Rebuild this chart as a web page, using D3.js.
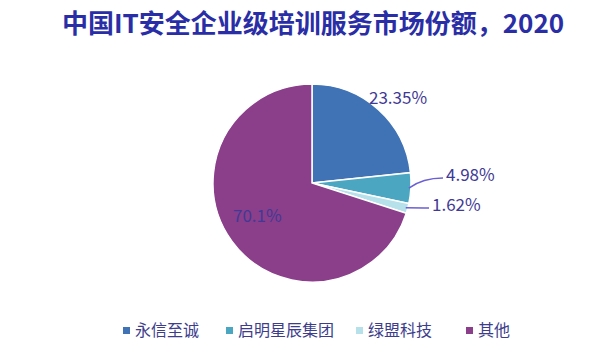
<!DOCTYPE html>
<html><head><meta charset="utf-8">
<script src="https://cdn.jsdelivr.net/npm/d3@7"></script>
<style>body{margin:0;background:#fff;} svg{display:block;}</style>
</head><body>
<svg id="c" width="597" height="356"></svg>
<script>
const title = "中国IT安全企业级培训服务市场份额，2020";
const categories = ["永信至诚", "启明星辰集团", "绿盟科技", "其他"];
const values = [23.35, 4.98, 1.62, 70.1];
const labels = ["23.35%", "4.98%", "1.62%", "70.1%"];
const colors = ["#3f73b6", "#4ba6c2", "#b6e0ea", "#8b3e8a"];

const svg = d3.select("#c");
const cx = 312, cy = 183, R = 99;
const font = "'Noto Sans CJK SC','Noto Sans',sans-serif";

svg.append("text").attr("x", 313).attr("y", 33).attr("text-anchor", "middle")
  .attr("font-family", font).attr("font-weight", "bold").attr("font-size", 26)
  .attr("fill", "#2a2ea6").text(title);

const pie = d3.pie().sort(null).value(d => d)(values);
const arc = d3.arc().innerRadius(0).outerRadius(R);
const g = svg.append("g").attr("transform", `translate(${cx},${cy})`);
g.selectAll("path").data(pie).join("path")
  .attr("d", arc).attr("fill", (d, i) => colors[i])
  .attr("stroke", "#fff").attr("stroke-width", 1.5);

const labColor = "#3f3a95";
const lab = [
  {dx: 57, dy: -79, line: false},
  {dx: 134, dy: -2, line: true, lx: 131, ly: -5},
  {dx: 120, dy: 28, line: true, lx: 117, ly: 25},
  {dx: -79, dy: 39, line: false}
];
pie.forEach((d, i) => {
  const L = lab[i];
  if (L.line) {
    const mid = (d.startAngle + d.endAngle) / 2;
    const p0 = [Math.sin(mid) * (R - 2), -Math.cos(mid) * (R - 2)];
    g.append("path")
      .attr("d", `M${p0[0]},${p0[1]} Q${p0[0] + 14},${L.ly} ${L.lx},${L.ly}`)
      .attr("fill", "none").attr("stroke", "#6a5fd6").attr("stroke-width", 1.5);
  }
  g.append("text").attr("x", L.dx).attr("y", L.dy)
    .attr("font-family", font).attr("font-size", 17)
    .attr("fill", labColor).text(labels[i]);
});

const legX = [123, 226, 356, 466];
const lg = svg.append("g");
categories.forEach((c, i) => {
  lg.append("rect").attr("x", legX[i]).attr("y", 327).attr("width", 7).attr("height", 7).attr("fill", colors[i]);
  lg.append("text").attr("x", legX[i] + 12).attr("y", 336).attr("font-family", font)
    .attr("font-size", 16).attr("fill", "#3d3d8c").text(c);
});
</script>
</body></html>
